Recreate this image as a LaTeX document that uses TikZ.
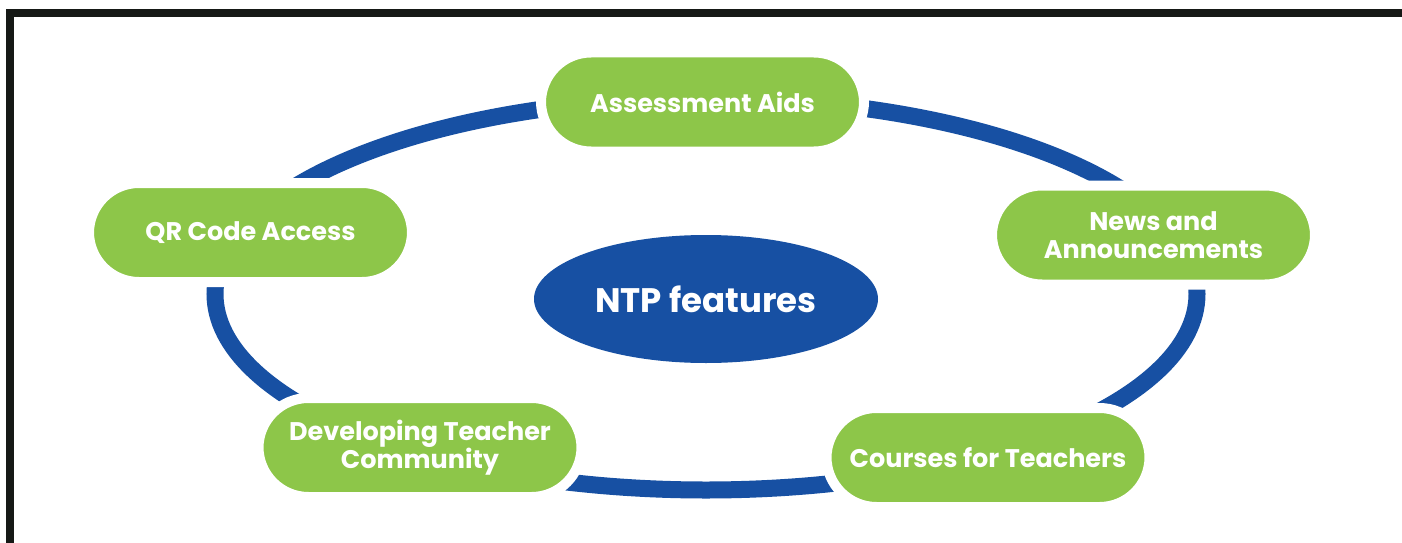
\documentclass[tikz,border=0pt]{standalone}
\usepackage{fontspec}
\setsansfont{Poppins}
\usetikzlibrary{shapes.geometric}
\definecolor{ringblue}{RGB}{23,80,163}
\definecolor{boxgreen}{RGB}{141,198,73}
\definecolor{framecol}{RGB}{22,25,22}
\begin{document}
\begin{tikzpicture}[x=1pt,y=-1pt,
  feat/.style={rectangle, rounded corners=50pt, fill=boxgreen, draw=white,
    line width=10pt, minimum width=323pt, minimum height=99pt, inner sep=0pt,
    text=white, align=center, font=\sffamily\bfseries\fontsize{25.5}{28}\selectfont},
  hub/.style={ellipse, fill=ringblue, minimum width=344pt, minimum height=128pt,
    inner sep=0pt, text=white, font=\sffamily\bfseries\fontsize{34}{38}\selectfont},
  ring/.style={draw=ringblue, line width=17pt},
  framestyle/.style={draw=framecol, line width=8pt}]
\useasboundingbox (0,0) rectangle (1402,543);
\clip (0,0) rectangle (1402,543);
\fill[white] (0,0) rectangle (1402,543);
\draw[framestyle] (10,600) -- (10,13.5) -- (1450,13.5);
\coordinate (ringc) at (706,294);
\draw[ring] (ringc) ellipse [x radius=491pt, y radius=196pt];
\node[hub] (ntp) at (706,299) {NTP features};
\node[feat] (assess) at (702.5,102) {Assessment Aids};
\node[feat] (qr) at (250.5,232.5) {QR Code Access};
\node[feat] (news) at (1153.5,235) {News and\\Announcements};
\node[feat] (dev) at (420,447.5) {Developing Teacher\\Community};
\node[feat] (courses) at (988,457.5) {Courses for Teachers};
\end{tikzpicture}
\end{document}
